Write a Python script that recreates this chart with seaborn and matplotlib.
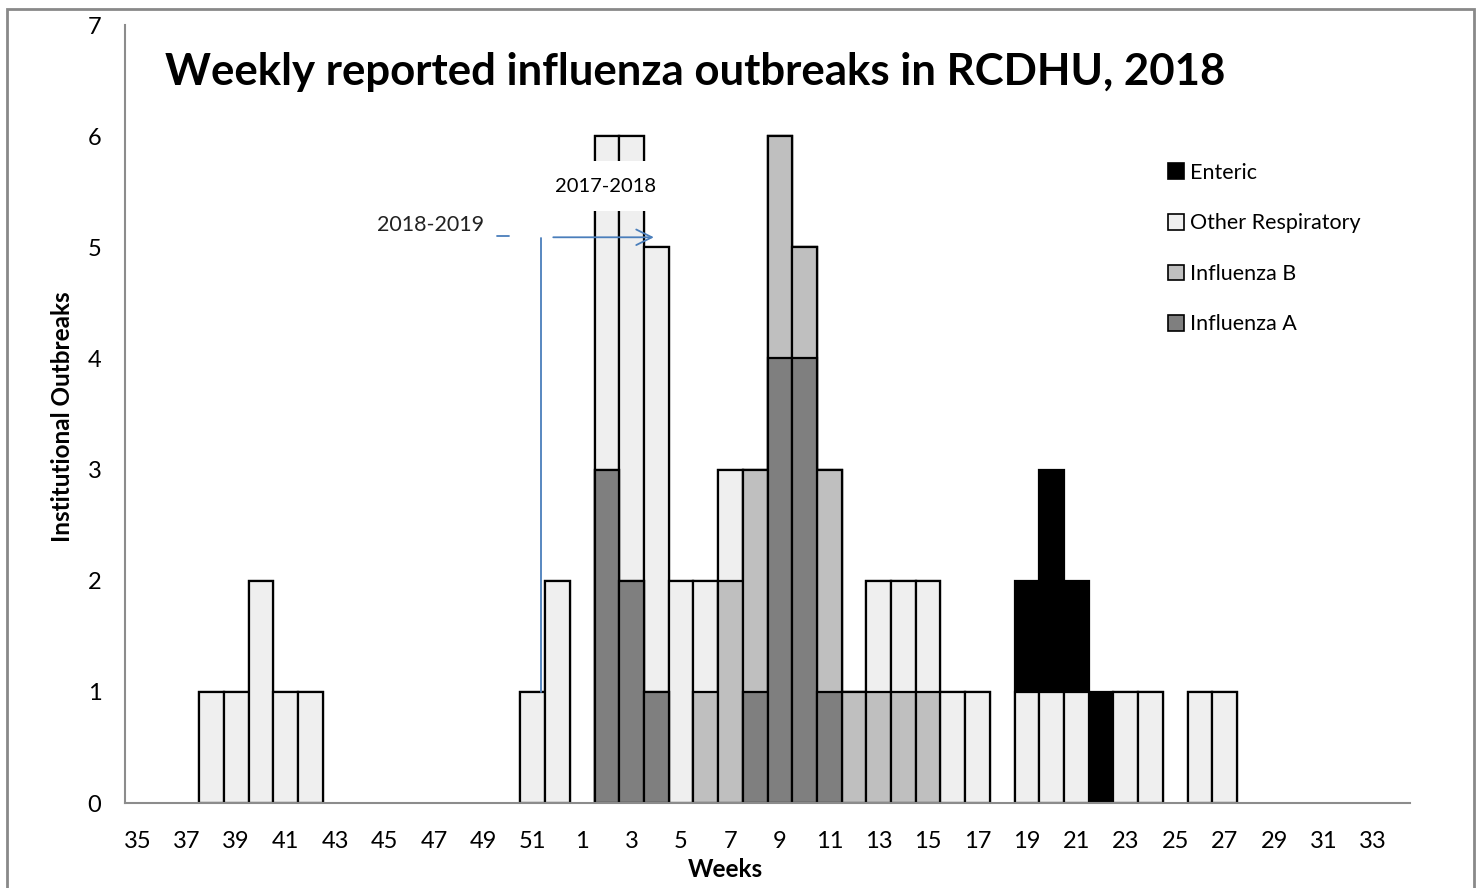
import numpy as np
import pandas as pd
import matplotlib
matplotlib.use("Agg")
import matplotlib.pyplot as plt
from matplotlib.patches import Patch, Rectangle
import seaborn as sns

# ---------------- data ----------------
weeks = list(range(35, 53)) + list(range(1, 35))
week_labels = [str(w) for w in weeks]

influenza_a = {2: 3, 3: 2, 4: 1, 8: 1, 9: 4, 10: 4, 11: 1}
influenza_b = {6: 1, 7: 2, 8: 2, 9: 2, 10: 1, 11: 2, 12: 1, 13: 1, 14: 1, 15: 1}
other_resp = {38: 1, 39: 1, 40: 2, 41: 1, 42: 1, 51: 1, 52: 2, 2: 3, 3: 4, 4: 4,
              5: 2, 6: 1, 7: 1, 13: 1, 14: 1, 15: 1, 16: 1, 17: 1, 19: 1, 20: 1,
              21: 1, 23: 1, 24: 1, 26: 1, 27: 1}
enteric = {19: 1, 20: 2, 21: 1, 22: 1}

series_names = ["Influenza A", "Influenza B", "Other Respiratory", "Enteric"]
series_data = [influenza_a, influenza_b, other_resp, enteric]
series_colors = ["#7f7f7f", "#bfbfbf", "#efefef", "#000000"]

y_ticks = list(range(0, 8))

# ---------------- build table ----------------
df = pd.DataFrame({"week": week_labels})
for name, d in zip(series_names, series_data):
    df[name] = [d.get(w, 0) for w in weeks]
cum = df[series_names].cumsum(axis=1)
for name in series_names:
    df["cum_" + name] = cum[name].where(cum[name] > 0, np.nan)

# ---------------- plot ----------------
sns.set_theme(style="white")
plt.rcParams["font.family"] = ["Lato", "DejaVu Sans"]
plt.rcParams["text.color"] = "black"

fig = plt.figure(figsize=(14.78, 8.88), dpi=100)
ax = fig.add_axes([125 / 1478, 1 - 803 / 888, (1410 - 125) / 1478, (803 - 25) / 888])

for name, col in reversed(list(zip(series_names, series_colors))):
    sns.barplot(data=df, x="week", y="cum_" + name, order=week_labels, color=col,
                saturation=1, edgecolor="black", linewidth=1.6, width=1.0,
                errorbar=None, ax=ax, zorder=2)

ax.set_xlim(-0.5, len(weeks) - 0.5)
ax.set_ylim(0, 7)
ax.set_yticks(y_ticks)
ax.set_yticklabels([str(t) for t in y_ticks], fontsize=17, color="black")

ax.set_xticks(np.arange(-0.5, len(weeks), 1.0))
ax.set_xticklabels([])
ax.set_xticks(np.arange(0, len(weeks), 2), minor=True)
ax.set_xticklabels(week_labels[::2], minor=True, fontsize=17, color="black")
ax.tick_params(axis="x", which="major", length=9, width=1.5, color="#8c8c8c", direction="out")
ax.tick_params(axis="x", which="minor", length=0, pad=20)
ax.tick_params(axis="y", length=8, width=1.5, color="#8c8c8c", direction="out", pad=9)

ax.set_xlabel("")
ax.set_ylabel("")
for s in ["top", "right"]:
    ax.spines[s].set_visible(False)
for s in ["left", "bottom"]:
    ax.spines[s].set_color("#8c8c8c")
    ax.spines[s].set_linewidth(1.5)
ax.spines["bottom"].set_zorder(3)

# titles / labels
fig.text(165 / 1478, 1 - 85 / 888, "Weekly reported influenza outbreaks in RCDHU, 2018",
         fontsize=31.5, fontweight="bold", ha="left", va="baseline", color="black")
fig.text(63 / 1478, 1 - 417 / 888, "Institutional Outbreaks", rotation=90,
         fontsize=17.5, fontweight="bold", ha="center", va="center", color="black")
fig.text(725 / 1478, 1 - 869 / 888, "Weeks", fontsize=17.5, fontweight="bold",
         ha="center", va="center", color="black")

# legend
handles = [Patch(facecolor=c, edgecolor="black", linewidth=1.2, label=n)
           for n, c in zip(series_names, series_colors)][::-1]
leg = ax.legend(handles=handles, loc="upper left", bbox_to_anchor=(1157 / 1478, 1 - 152 / 888),
                bbox_transform=fig.transFigure, frameon=False, fontsize=15.5,
                handlelength=0.75, handleheight=0.75, handletextpad=0.3, labelspacing=1.42,
                borderpad=0)
for t in leg.get_texts():
    t.set_color("black")

# annotations
blue = "#4a7ebb"
ax.text(18.93, 5.55, "2017-2018", fontsize=14.5, ha="center", va="center", zorder=5,
        color="black", bbox=dict(facecolor="white", edgecolor="none", pad=12))
ax.text(11.85, 5.2, "2018-2019", fontsize=15.5, ha="center", va="center", zorder=5,
        color="#222222")
ax.plot([14.55, 15.05], [5.1, 5.1], color=blue, lw=1.3, zorder=6)
ax.plot([16.34, 16.34], [1.0, 5.08], color=blue, lw=1.3, zorder=6)
ax.annotate("", xy=(20.9, 5.09), xytext=(16.83, 5.09),
            arrowprops=dict(arrowstyle="->", color=blue, lw=1.3, mutation_scale=28,
                            shrinkA=0, shrinkB=0), zorder=6)

# figure border (bottom edge falls outside the image)
fig.patches.append(Rectangle((7 / 1478, -5 / 888), 1467 / 1478, 884 / 888,
                             transform=fig.transFigure, fill=False,
                             edgecolor="#898989", linewidth=2))

fig.savefig("out.png", dpi=100)
